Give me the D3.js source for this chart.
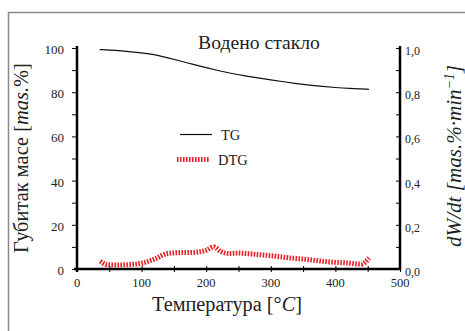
<!DOCTYPE html>
<html>
<head>
<meta charset="utf-8">
<script src="https://cdn.jsdelivr.net/npm/d3@7"></script>
<style>
  body { margin: 0; background: #fff; }
</style>
</head>
<body>
<div id="chart"></div>
<script>
// TG curve (mass %)
const tgTemp = [35, 60, 80, 100, 115, 140, 160, 180, 200, 220, 240, 260, 280, 300, 320, 340, 360, 380, 400, 420, 452];
const tgMass = [99.3, 98.9, 98.4, 97.8, 97.3, 95.6, 94.1, 92.6, 91.1, 89.7, 88.4, 87.4, 86.5, 85.6, 84.7, 83.9, 83.2, 82.6, 82.1, 81.7, 81.3];

// DTG curve (mas.%/min)
const dtgTemp = [36, 46, 60, 80, 100, 120, 140, 160, 180, 200, 212, 222, 235, 250, 270, 300, 330, 360, 380, 400, 420, 440, 452];
const dtgRate = [0.035, 0.02, 0.018, 0.02, 0.026, 0.045, 0.07, 0.074, 0.075, 0.085, 0.1, 0.08, 0.07, 0.072, 0.068, 0.06, 0.05, 0.042, 0.035, 0.03, 0.027, 0.022, 0.05];

const xTicks = [0, 100, 200, 300, 400, 500];
const yLeftTicks = [0, 20, 40, 60, 80, 100];
const yRightTicks = [0, 0.2, 0.4, 0.6, 0.8, 1.0];

const width = 465, height = 331;
const mLeft = 77, mRight = 400, mTop = 48, mBottom = 269;
const serif = "'Liberation Serif'";
const ink = "#222";

const svg = d3.select("#chart").append("svg")
  .attr("width", width).attr("height", height);

// outer frame
svg.append("rect")
  .attr("x", 8.5).attr("y", 12.5)
  .attr("width", 470).attr("height", 340)
  .attr("fill", "none").attr("stroke", "#8a8a8a").attr("stroke-width", 1.5);

const x = d3.scaleLinear().domain([0, 500]).range([mLeft, mRight]);
const yL = d3.scaleLinear().domain([0, 100]).range([mBottom, mTop]);
const yR = d3.scaleLinear().domain([0, 1]).range([mBottom, mTop]);

// x axis
const gx = svg.append("g").attr("transform", "translate(0," + mBottom + ")");
gx.call(d3.axisBottom(x).tickValues(d3.range(0, 501, 50)).tickSize(3).tickFormat(""));
gx.selectAll(".tick line").attr("y1", -3).attr("y2", 3);
gx.select(".domain").remove();
gx.append("line").attr("x1", mLeft - 3).attr("x2", mRight).attr("stroke", "#000").attr("stroke-width", 2.5);
gx.selectAll(".lbl").data(xTicks).enter().append("text")
  .attr("x", d => x(d)).attr("y", 18)
  .attr("text-anchor", "middle")
  .text(d => d);

// left axis
const gl = svg.append("g").attr("transform", "translate(" + mLeft + ",0)");
gl.call(d3.axisLeft(yL).tickValues(d3.range(0, 101, 10)).tickSize(5).tickFormat(""));
gl.select(".domain").remove();
gl.append("line").attr("y1", mTop - 2).attr("y2", mBottom + 3).attr("stroke", "#000").attr("stroke-width", 2.5);
gl.selectAll(".lbl").data(yLeftTicks).enter().append("text")
  .attr("x", -13).attr("y", d => yL(d) + 6)
  .attr("text-anchor", "end").attr("data-size", 13)
  .text(d => d);

// right axis (ticks point inward)
const gr = svg.append("g").attr("transform", "translate(" + mRight + ",0)");
gr.call(d3.axisLeft(yR).tickValues(d3.range(0, 1.01, 0.1)).tickSize(4).tickFormat(""));
gr.select(".domain").remove();
gr.append("line").attr("y1", mTop - 2).attr("y2", mBottom + 1).attr("stroke", "#000").attr("stroke-width", 2.5);
gr.selectAll(".lbl").data(yRightTicks).enter().append("text")
  .attr("x", 5).attr("y", d => yR(d) + 7)
  .attr("text-anchor", "start").attr("data-size", 12)
  .text(d => d.toFixed(1).replace(".", ","));

svg.selectAll(".tick line").attr("stroke", "#000").attr("stroke-width", 1);

// curves
const tgLine = d3.line().curve(d3.curveBasis)
  .x((d, i) => x(tgTemp[i])).y(d => yL(d));
svg.append("path").datum(tgMass)
  .attr("d", tgLine)
  .attr("fill", "none").attr("stroke", "#111").attr("stroke-width", 1.2);

const dtgLine = d3.line().curve(d3.curveMonotoneX)
  .x((d, i) => x(dtgTemp[i])).y(d => yR(d));
svg.append("path").datum(dtgRate)
  .attr("d", dtgLine)
  .attr("fill", "none").attr("stroke", "#e8202a").attr("stroke-width", 5)
  .attr("stroke-dasharray", "1.6,1.4");

// title
svg.append("text").attr("x", 259).attr("y", 49)
  .attr("text-anchor", "middle").attr("data-size", 17).attr("data-fit", 122)
  .text("Водено стакло");

// legend
svg.append("line").attr("x1", 180).attr("x2", 212).attr("y1", 134.5).attr("y2", 134.5)
  .attr("stroke", "#111").attr("stroke-width", 1.2);
svg.append("text").attr("x", 221).attr("y", 140).attr("data-size", 14.5).text("TG");
svg.append("line").attr("x1", 177).attr("x2", 209).attr("y1", 159.5).attr("y2", 159.5)
  .attr("stroke", "#e8202a").attr("stroke-width", 5).attr("stroke-dasharray", "1.6,1.4");
svg.append("text").attr("x", 218).attr("y", 165).attr("data-size", 14.5).text("DTG");

// axis titles
svg.append("text").attr("x", 227).attr("y", 311)
  .attr("text-anchor", "middle").attr("data-size", 18).attr("data-fit", 150)
  .html("Температура [°<tspan font-style='italic'>C</tspan>]");

svg.append("text").attr("transform", "translate(28,158) rotate(-90)")
  .attr("text-anchor", "middle").attr("data-size", 18).attr("data-fit", 190)
  .html("Губитак масе [<tspan font-style='italic'>mas.</tspan>%]");

svg.append("text").attr("transform", "translate(461,156) rotate(-90)")
  .attr("text-anchor", "middle").attr("data-size", 18).attr("data-fit", 182).style("font-style", "italic")
  .html("dW/dt [mas.%·min<tspan dy='-7' font-size='0.65em'>−1</tspan><tspan dy='7'>]</tspan>");

// apply the serif face to every label, scale titles to their width in the picture
svg.selectAll("text")
  .style("font-family", serif)
  .style("fill", ink)
  .style("font-size", function() { return (this.getAttribute("data-size") || 12.5) + "px"; })
  .each(function() {
    const fit = +this.getAttribute("data-fit");
    if (!fit) return;
    const base = +this.getAttribute("data-size");
    const w = this.getComputedTextLength();
    d3.select(this).style("font-size", (base * fit / w).toFixed(2) + "px");
  });
</script>
</body>
</html>
